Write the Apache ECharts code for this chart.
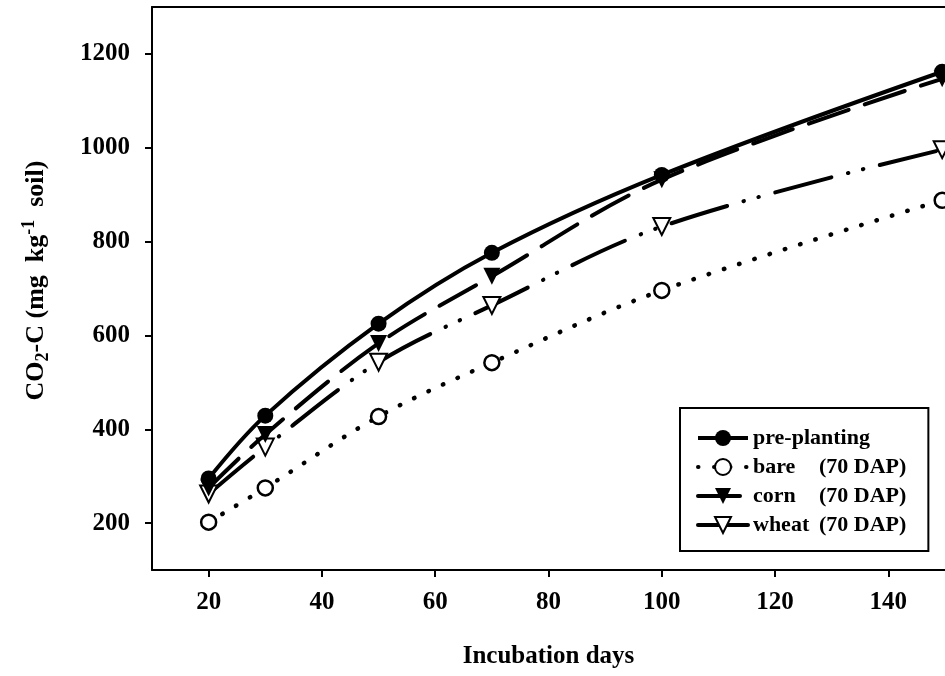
<!DOCTYPE html>
<html><head><meta charset="utf-8">
<script src="https://cdn.jsdelivr.net/npm/echarts@6/dist/echarts.min.js"></script>
<style>html,body{margin:0;padding:0;background:#fff}#c{width:945px;height:676px}</style>
</head><body><div id="c"></div>
<script>
const days = [20, 30, 50, 70, 100, 149.5];
const prePlanting = [295, 429, 625, 776, 942, 1162];
const bare = [202, 275, 427, 542, 696, 888];
const corn = [275, 389, 583, 726, 932, 1147];
const wheat = [262, 362, 543, 664, 832, 996];
const xTicks = [20, 40, 60, 80, 100, 120, 140];
const yTicks = [200, 400, 600, 800, 1000, 1200];
const seriesNames = ['pre-planting', 'bare (70 DAP)', 'corn (70 DAP)', 'wheat (70 DAP)'];

const FONT = 'Liberation Serif';
const pairs = arr => days.map((d, i) => [d, arr[i]]);

const chart = echarts.init(document.getElementById('c'), null, {renderer: 'canvas'});
const axisCommon = {
  axisLine: {show: true, onZero: false, lineStyle: {color: '#000', width: 2}},
  axisTick: {show: true, inside: false, length: 7, lineStyle: {color: '#000', width: 2}},
  splitLine: {show: false},
  axisLabel: {color: '#000', fontFamily: FONT, fontWeight: 'bold', fontSize: 25, formatter: v => String(v)},
  nameTextStyle: {color: '#000', fontFamily: FONT, fontWeight: 'bold', fontSize: 25}
};
chart.setOption({
  animation: false,
  backgroundColor: '#fff',
  grid: {left: 152, top: 7, right: 0, height: 563, show: false},
  xAxis: [
    Object.assign({}, axisCommon, {
      type: 'value', min: 10, max: 150, interval: 10,
      axisTick: Object.assign({}, axisCommon.axisTick, {customValues: xTicks}),
      axisLabel: Object.assign({}, axisCommon.axisLabel, {customValues: xTicks, margin: 20}),
      name: 'Incubation days', nameLocation: 'middle', nameGap: 74
    }),
    {type: 'value', position: 'top', min: 10, max: 150, interval: 10,
      axisLine: {show: true, onZero: false, lineStyle: {color: '#000', width: 2}},
      axisTick: {show: false}, axisLabel: {show: false}, splitLine: {show: false}}
  ],
  yAxis: Object.assign({}, axisCommon, {
    type: 'value', min: 100, max: 1300, interval: 100,
    axisTick: Object.assign({}, axisCommon.axisTick, {customValues: yTicks}),
    axisLabel: Object.assign({}, axisCommon.axisLabel, {customValues: yTicks, margin: 22}),
    name: '{a|CO}{sub|2}{a|-C (mg  kg}{sup|-1}{a|  soil)}',
    nameLocation: 'middle', nameGap: 100,
    nameTextStyle: Object.assign({}, axisCommon.nameTextStyle, {
      padding: [0, 0, 0, 16],
      rich: {
        a: {fontFamily: FONT, fontWeight: 'bold', fontSize: 26, color: '#000', lineHeight: 32},
        sub: {fontFamily: FONT, fontWeight: 'bold', fontSize: 18, color: '#000', lineHeight: 14, verticalAlign: 'bottom'},
        sup: {fontFamily: FONT, fontWeight: 'bold', fontSize: 18, color: '#000', lineHeight: 14, verticalAlign: 'top'}
      }
    })
  }),
  legend: {
    orient: 'vertical', left: 680, top: 408,
    padding: [19, 22, 15, 16],
    itemWidth: 50, itemHeight: 20, itemGap: 7,
    borderColor: '#000', borderWidth: 2, backgroundColor: '#fff',
    lineStyle: {width: 4},
    data: seriesNames,
    formatter: function (name) {
      const k = name.indexOf(' (');
      if (k < 0) return '{a|' + name + '}';
      return '{a|' + name.slice(0, k) + '}{b|' + name.slice(k + 1) + '}';
    },
    textStyle: {
      fontFamily: FONT, fontWeight: 'bold', fontSize: 22, color: '#000', lineHeight: 20,
      rich: {
        a: {fontFamily: FONT, fontWeight: 'bold', fontSize: 22, color: '#000', width: 66, lineHeight: 20},
        b: {fontFamily: FONT, fontWeight: 'bold', fontSize: 22, color: '#000', lineHeight: 20}
      }
    }
  },
  series: [
    {name: seriesNames[0], type: 'line', data: pairs(prePlanting), smooth: 0.35,
      symbol: 'circle', symbolSize: 16, itemStyle: {color: '#000'},
      lineStyle: {color: '#000', width: 4}, z: 5},
    {name: seriesNames[1], type: 'line', data: pairs(bare), smooth: 0.35,
      symbol: 'circle', symbolSize: 15, itemStyle: {color: '#fff', borderColor: '#000', borderWidth: 2.5},
      lineStyle: {color: '#000', width: 4.5, type: [0.5, 15.5], cap: 'round'}, z: 2},
    {name: seriesNames[2], type: 'line', data: pairs(corn), smooth: 0.35,
      symbol: 'triangle', symbolRotate: 180, symbolSize: 17, itemStyle: {color: '#000'},
      lineStyle: {color: '#000', width: 4, type: [42, 17], cap: 'round'}, z: 4},
    {name: seriesNames[3], type: 'line', data: pairs(wheat), smooth: 0.35,
      symbol: 'triangle', symbolRotate: 180, symbolSize: 17, itemStyle: {color: '#fff', borderColor: '#000', borderWidth: 2},
      lineStyle: {color: '#000', width: 4, type: [58, 17, 0.5, 15, 0.5, 17], cap: 'round'}, z: 3}
  ]
});
</script>
</body></html>
